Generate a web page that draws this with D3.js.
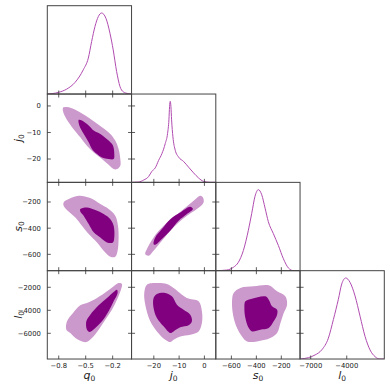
<!DOCTYPE html>
<html>
<head>
<meta charset="utf-8">
<script src="https://cdn.jsdelivr.net/npm/d3@7/dist/d3.min.js"></script>
<style>
  body { margin: 0; background: #fff; }
  text { font-family: "DejaVu Sans", sans-serif; }
</style>
</head>
<body>
<div id="chart"></div>
<script>
// parameter names, in corner order
const params = ["q", "j", "s", "l"];

// axis ranges
const xDomains = { q: [-0.927, 0.01], j: [-28.8, 4.5], s: [-725, -50], l: [-7890, -870] };
const yDomains = { j: [-28.8, 4.5], s: [-725, -50], l: [-8235, -557] };

// tick values
const xTicks = { q: [-0.8, -0.5, -0.2], j: [-20, -10, 0], s: [-600, -400, -200], l: [-7000, -4000] };
const yTicks = { j: [-20, -10, 0], s: [-600, -400, -200], l: [-6000, -4000, -2000] };

// 1D marginals: [value, normalised density]
const qMarginal = [[-0.927,0],[-0.805,0.02],[-0.711,0.061],[-0.619,0.143],[-0.527,0.299],[-0.471,0.443],
  [-0.434,0.647],[-0.397,0.832],[-0.36,0.955],[-0.323,1.0],[-0.275,0.935],[-0.23,0.75],[-0.194,0.545],
  [-0.156,0.278],[-0.119,0.094],[-0.083,0.028],[-0.027,0.005],[0.01,0]];
const jMarginal = [[-28.65,0],[-26.0,0.004],[-24.0,0.029],[-22.07,0.071],[-20.75,0.137],[-19.43,0.179],
  [-18.11,0.271],[-16.8,0.354],[-15.48,0.479],[-14.56,0.604],[-14.03,0.771],[-13.77,0.937],[-13.5,1.0],
  [-13.24,0.937],[-12.97,0.771],[-12.45,0.562],[-11.53,0.396],[-10.21,0.312],[-8.23,0.258],[-6.25,0.187],
  [-4.28,0.117],[-2.3,0.054],[-0.33,0.012],[2.3,0],[4.5,0]];
const sMarginal = [[-723,0],[-638,0.008],[-584,0.042],[-544,0.104],[-504,0.25],[-464,0.5],[-437,0.708],
  [-411,0.917],[-384,1.0],[-357,0.937],[-330,0.771],[-304,0.604],[-264,0.458],[-224,0.312],[-183,0.146],
  [-143,0.033],[-103,0],[-50,0]];
const lMarginal = [[-7890,0],[-7197,0.017],[-6641,0.05],[-6086,0.112],[-5530,0.258],[-5113,0.487],
  [-4697,0.737],[-4419,0.925],[-4085,1.0],[-3724,0.946],[-3308,0.779],[-2891,0.529],[-2474,0.279],
  [-2057,0.112],[-1641,0.029],[-1225,0],[-870,0]];
const marginals = { q: qMarginal, j: jMarginal, s: sMarginal, l: lMarginal };

// 2D credible regions: outer (95%) and inner (68%) contours, [x, y]
const qjOuter = [[-0.752,-0.68],[-0.708,-0.43],[-0.615,-1.44],[-0.523,-3.21],[-0.411,-5.73],[-0.319,-8.0],
  [-0.226,-10.53],[-0.171,-13.06],[-0.134,-16.21],[-0.115,-20.0],[-0.115,-22.5],[-0.152,-23.8],[-0.189,-23.8],
  [-0.245,-22.2],[-0.319,-20.0],[-0.411,-17.5],[-0.486,-15.0],[-0.56,-11.8],[-0.652,-8.0],[-0.726,-4.2],[-0.752,-1.95]];
const qjInner = [[-0.578,-5.23],[-0.541,-5.48],[-0.467,-7.37],[-0.411,-9.27],[-0.337,-10.53],[-0.245,-13.06],
  [-0.197,-14.95],[-0.182,-18.1],[-0.189,-20.0],[-0.245,-20.0],[-0.319,-19.4],[-0.374,-18.1],[-0.43,-16.2],
  [-0.467,-13.7],[-0.523,-10.5],[-0.571,-7.37]];
const qsOuter = [[-0.745,-203],[-0.689,-178],[-0.578,-152],[-0.449,-170],[-0.337,-216],[-0.245,-254],
  [-0.171,-305],[-0.141,-382],[-0.134,-471],[-0.145,-572],[-0.171,-618],[-0.226,-618],[-0.3,-572],
  [-0.374,-509],[-0.467,-445],[-0.541,-382],[-0.615,-318],[-0.7,-267],[-0.745,-229]];
const qsInner = [[-0.56,-254],[-0.486,-242],[-0.393,-262],[-0.3,-292],[-0.226,-331],[-0.189,-382],
  [-0.182,-471],[-0.197,-509],[-0.263,-509],[-0.337,-471],[-0.411,-432],[-0.467,-369],[-0.523,-305],[-0.56,-272]];
const jsOuter = [[-23.38,-598],[-22.73,-560],[-20.09,-471],[-16.14,-382],[-12.19,-318],[-8.23,-254],
  [-4.28,-191],[-1.64,-152],[-0.59,-165],[-0.33,-203],[-2.96,-254],[-6.9,-305],[-10.2,-356],[-13.5,-420],
  [-16.8,-496],[-20.1,-572],[-22.07,-611]];
const jsInner = [[-20.09,-522],[-19.43,-471],[-16.8,-407],[-13.5,-331],[-9.55,-280],[-5.6,-236],[-4.54,-254],
  [-6.9,-292],[-10.2,-343],[-13.5,-420],[-16.8,-483],[-19.43,-527]];
const qlOuter = [[-0.134,-1627],[-0.097,-1714],[-0.108,-2207],[-0.152,-3077],[-0.208,-3947],[-0.282,-4817],
  [-0.356,-5687],[-0.43,-6412],[-0.493,-6760],[-0.56,-6644],[-0.615,-6412],[-0.671,-5977],[-0.715,-5687],
  [-0.708,-4962],[-0.641,-4237],[-0.56,-3570],[-0.486,-3367],[-0.374,-2932],[-0.263,-2352],[-0.189,-1917]];
const qlInner = [[-0.152,-2207],[-0.145,-2497],[-0.189,-3222],[-0.245,-4092],[-0.319,-4962],[-0.393,-5542],
  [-0.456,-5890],[-0.486,-5687],[-0.493,-4962],[-0.449,-4382],[-0.356,-3570],[-0.263,-2932],[-0.189,-2410]];
const jlOuter = [[-22.72,-1772],[-18.77,-1627],[-14.82,-1714],[-12.19,-2062],[-6.91,-2932],[-2.3,-3222],
  [-0.99,-4092],[-0.99,-5107],[-2.3,-5832],[-5.6,-6122],[-9.55,-6267],[-12.19,-6557],[-13.5,-6760],
  [-15.48,-6557],[-18.77,-5832],[-21.4,-4962],[-23.38,-3512],[-23.78,-2497]];
const jlInner = [[-20.09,-2932],[-18.77,-2584],[-15.48,-2497],[-12.84,-2787],[-10.87,-3512],[-8.23,-3947],
  [-5.6,-4382],[-4.94,-4962],[-6.25,-5310],[-9.55,-5484],[-12.19,-5832],[-13.5,-5977],[-16.14,-5397],
  [-18.77,-4672],[-20.09,-3802]];
const slOuter = [[-582,-2497],[-528,-2062],[-422,-1917],[-301,-1830],[-234,-2352],[-168,-2787],[-154,-3512],
  [-181,-4237],[-207,-5107],[-234,-5977],[-288,-6412],[-395,-6702],[-475,-6702],[-515,-6267],[-555,-5542],
  [-587,-4382],[-595,-3222]];
const slInner = [[-488,-3222],[-435,-2990],[-328,-2787],[-301,-3077],[-274,-3657],[-234,-3947],[-234,-4382],
  [-261,-4962],[-301,-5542],[-368,-5687],[-435,-5832],[-461,-5542],[-488,-4672],[-496,-3802]];

const regions = [
  { x: "q", y: "j", outer: qjOuter, inner: qjInner },
  { x: "q", y: "s", outer: qsOuter, inner: qsInner },
  { x: "j", y: "s", outer: jsOuter, inner: jsInner },
  { x: "q", y: "l", outer: qlOuter, inner: qlInner },
  { x: "j", y: "l", outer: jlOuter, inner: jlInner },
  { x: "s", y: "l", outer: slOuter, inner: slInner }
];

const W = 390, H = 390;
const padLeft = 47.3, padTop = 5.7, pw = 84.25, ph = 88.33;
const darkFill = "#800080", lightFill = "#cc99cc";

const svg = d3.select("#chart").append("svg")
  .attr("width", W)
  .attr("height", H);

const col = p => params.indexOf(p);

function xScale(p) {
  const c = col(p);
  return d3.scaleLinear().domain(xDomains[p]).range([padLeft + c * pw, padLeft + (c + 1) * pw]);
}
function yScale(p) {
  const r = col(p);
  return d3.scaleLinear().domain(yDomains[p]).range([padTop + (r + 1) * ph, padTop + r * ph]);
}

const fmt = { q: d3.format(".1f"), j: d3.format("d"), s: d3.format("d"), l: d3.format("d") };
const tickLen = 3.5;

function drawTicks(g, r, c, opts) {
  const px = params[c], py = params[r];
  const x0 = padLeft + c * pw, x1 = x0 + pw, y0 = padTop + r * ph, y1 = y0 + ph;
  const xs = xScale(px);
  xTicks[px].forEach(v => {
    const X = xs(v);
    g.append("line").attr("x1", X).attr("x2", X).attr("y1", y1).attr("y2", y1 - tickLen);
    if (opts.top) g.append("line").attr("x1", X).attr("x2", X).attr("y1", y0).attr("y2", y0 + tickLen);
  });
  if (r > 0) {
    const ys = yScale(py);
    yTicks[py].forEach(v => {
      const Y = ys(v);
      g.append("line").attr("x1", x0).attr("x2", x0 + tickLen).attr("y1", Y).attr("y2", Y);
      if (opts.right) g.append("line").attr("x1", x1).attr("x2", x1 - tickLen).attr("y1", Y).attr("y2", Y);
    });
  }
}

// clip paths per panel
const defs = svg.append("defs");
for (let r = 0; r < 4; r++) {
  for (let c = 0; c <= r; c++) {
    defs.append("clipPath").attr("id", `clip-${r}-${c}`)
      .append("rect")
      .attr("x", padLeft + c * pw).attr("y", padTop + r * ph)
      .attr("width", pw).attr("height", ph);
  }
}

// 2D panels
regions.forEach(reg => {
  const c = col(reg.x), r = col(reg.y);
  const xs = xScale(reg.x), ys = yScale(reg.y);
  const line = d3.line()
    .x(d => xs(d[0]))
    .y(d => ys(d[1]))
    .curve(d3.curveCatmullRomClosed.alpha(0.5));
  const g = svg.append("g").attr("clip-path", `url(#clip-${r}-${c})`);
  g.append("path").attr("d", line(reg.outer)).attr("fill", lightFill);
  g.append("path").attr("d", line(reg.inner)).attr("fill", darkFill);
});

// diagonal marginals
params.forEach((p, i) => {
  const xs = xScale(p);
  const y0 = padTop + (i + 1) * ph;
  const ys = d3.scaleLinear().domain([0, 1.09]).range([y0, y0 - ph]);
  const line = d3.line()
    .x(d => xs(d[0]))
    .y(d => ys(d[1]))
    .curve(d3.curveMonotoneX);
  svg.append("g").attr("clip-path", `url(#clip-${i}-${i})`)
    .append("path")
    .attr("d", line(marginals[p]))
    .attr("fill", "none")
    .attr("stroke", "#b04cb0")
    .attr("stroke-width", 1);
});

// frames and ticks
const frames = svg.append("g").attr("fill", "none").attr("stroke", "#444").attr("stroke-width", 1);
const ticks = svg.append("g").attr("stroke", "#333").attr("stroke-width", 0.8);
for (let r = 0; r < 4; r++) {
  for (let c = 0; c <= r; c++) {
    frames.append("rect")
      .attr("x", padLeft + c * pw).attr("y", padTop + r * ph)
      .attr("width", pw).attr("height", ph);
    const diag = r === c;
    drawTicks(ticks, r, c, { top: !diag, right: !diag });
  }
}

// tick labels on bottom row
const tickText = svg.append("g").attr("font-size", 6.8).attr("fill", "#222");
params.forEach((p, c) => {
  const xs = xScale(p);
  xTicks[p].forEach(v => {
    tickText.append("text")
      .attr("x", xs(v))
      .attr("y", padTop + 4 * ph + 9)
      .attr("text-anchor", "middle")
      .text(fmt[p](v));
  });
});
// tick labels on left column
params.slice(1).forEach(p => {
  const ys = yScale(p);
  yTicks[p].forEach(v => {
    tickText.append("text")
      .attr("x", padLeft - 6.5)
      .attr("y", ys(v))
      .attr("dy", "0.35em")
      .attr("text-anchor", "end")
      .text(fmt[p](v));
  });
});

// axis labels
function axisLabel(sel, letter) {
  sel.append("tspan").attr("font-style", "italic").text(letter);
  sel.append("tspan").attr("font-size", 7.5).attr("dy", 2.5).text("0");
}
params.forEach((p, c) => {
  const t = svg.append("text")
    .attr("x", padLeft + (c + 0.5) * pw)
    .attr("y", 378.5)
    .attr("text-anchor", "middle")
    .attr("font-size", 11)
    .attr("fill", "#222");
  axisLabel(t, p);
});
params.slice(1).forEach(p => {
  const r = col(p);
  const cy = padTop + (r + 0.5) * ph;
  const t = svg.append("text")
    .attr("transform", `translate(21.5,${cy}) rotate(-90)`)
    .attr("text-anchor", "middle")
    .attr("font-size", 11)
    .attr("fill", "#222");
  axisLabel(t, p);
});
</script>
</body>
</html>
